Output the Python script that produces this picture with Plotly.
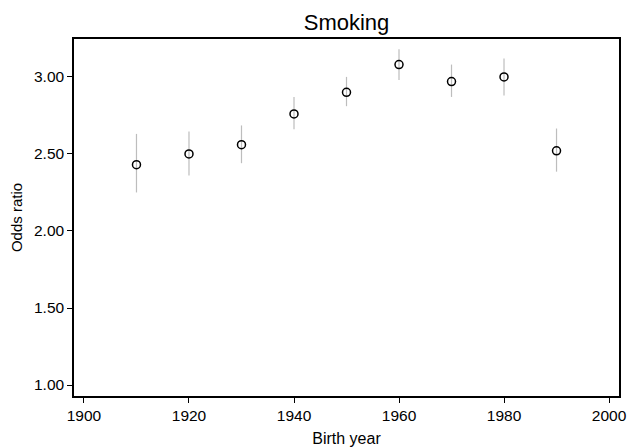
import plotly.graph_objects as go

birth_year = [1910, 1920, 1930, 1940, 1950, 1960, 1970, 1980, 1990]
odds_ratio = [2.43, 2.50, 2.56, 2.76, 2.90, 3.08, 2.97, 3.00, 2.52]
ci_low = [2.25, 2.36, 2.44, 2.66, 2.81, 2.98, 2.87, 2.88, 2.385]
ci_high = [2.63, 2.645, 2.685, 2.87, 3.00, 3.18, 3.08, 3.12, 2.665]
x_ticks = [1900, 1920, 1940, 1960, 1980, 2000]
y_ticks = [1.00, 1.50, 2.00, 2.50, 3.00]

err_plus = [h - v for h, v in zip(ci_high, odds_ratio)]
err_minus = [v - l for l, v in zip(ci_low, odds_ratio)]

fig = go.Figure()
fig.add_trace(go.Scatter(
    x=birth_year, y=odds_ratio, mode="markers",
    marker=dict(symbol="circle-open", size=8, color="black", line=dict(width=1.5, color="black")),
    error_y=dict(type="data", symmetric=False, array=err_plus, arrayminus=err_minus,
                 color="#bdbdbd", thickness=1.2, width=0),
    showlegend=False,
))

fig.update_layout(
    width=627, height=448,
    margin=dict(l=74, r=8, t=39, b=52),
    paper_bgcolor="white", plot_bgcolor="white",
    font=dict(family="Liberation Sans, Arial, sans-serif", color="black", size=15),
    title=dict(text="Smoking", x=0.5, xanchor="center", xref="paper",
               y=1 - 22 / 448, yref="container", yanchor="middle",
               font=dict(size=22, color="black")),
)
fig.update_xaxes(
    range=[1898.1, 2001.9], tickvals=x_ticks, ticktext=[str(t) for t in x_ticks],
    showgrid=False, zeroline=False, showline=True, linecolor="black", linewidth=1.5,
    mirror=True, ticks="outside", ticklen=5, tickcolor="black", tickwidth=1,
    title=dict(text="Birth year", standoff=9, font=dict(size=16)),
    tickfont=dict(size=15.5), automargin=False,
)
fig.update_yaxes(
    range=[0.929, 3.246], tickvals=y_ticks, ticktext=[f"{t:.2f}" for t in y_ticks],
    showgrid=False, zeroline=False, showline=True, linecolor="black", linewidth=1.5,
    mirror=True, ticks="outside", ticklen=5, tickcolor="black", tickwidth=1,
    title=dict(text="Odds ratio", standoff=8, font=dict(size=15)),
    tickfont=dict(size=15.5), automargin=False,
)

fig.write_html(
    "out.html",
    config={"displayModeBar": False},
    post_script="document.body.style.margin='0px';document.body.style.overflow='hidden';",
)
